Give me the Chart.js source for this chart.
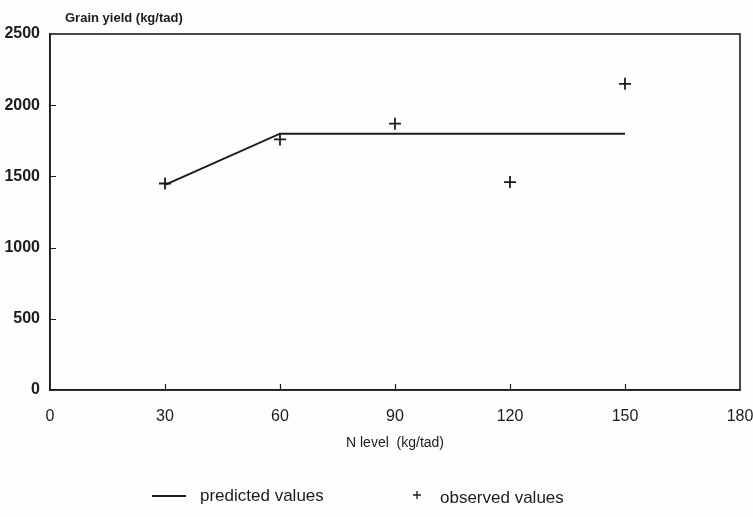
<!DOCTYPE html>
<html>
<head>
<meta charset="utf-8">
<script src="https://cdn.jsdelivr.net/npm/chart.js@4"></script>
<style>
  html, body { margin: 0; padding: 0; background: #fdfdfb; }
  #wrap { width: 753px; height: 517px; position: relative; }
</style>
</head>
<body>
<div id="wrap"><canvas id="yieldChart" width="753" height="517"></canvas></div>
<script>
// N level (kg/fad) and grain yield (kg/fad)
const nLevels = [30, 60, 90, 120, 150];
const predictedYield = [1440, 1800, 1800, 1800, 1800];
const observedYield = [1450, 1760, 1870, 1460, 2150];
const xTicks = [0, 30, 60, 90, 120, 150, 180];
const yTicks = [0, 500, 1000, 1500, 2000, 2500];
const legendNames = ['predicted values', 'observed values'];

const ink = '#1c1c1c';
const fontFam = '"Liberation Sans", Arial, sans-serif';

// frame, inward ticks, y title and the legend line at the bottom
const framePlugin = {
    id: 'frame',
    afterDraw(chart) {
        const a = chart.chartArea;
        const c = chart.ctx;
        const xs = chart.scales.x, ys = chart.scales.y;
        c.save();
        c.strokeStyle = ink;
        c.lineWidth = 1.6;
        c.strokeRect(a.left, a.top, a.right - a.left, a.bottom - a.top);

        c.lineWidth = 1.2;
        c.beginPath();
        xTicks.slice(1, -1).forEach(v => {
            const px = Math.round(xs.getPixelForValue(v)) + 0.5;
            c.moveTo(px, a.bottom);
            c.lineTo(px, a.bottom - 6);
        });
        yTicks.slice(1, -1).forEach(v => {
            const py = Math.round(ys.getPixelForValue(v)) + 0.5;
            c.moveTo(a.left, py);
            c.lineTo(a.left + 6, py);
        });
        c.stroke();

        c.fillStyle = ink;
        c.font = 'bold 13px ' + fontFam;
        c.textBaseline = 'alphabetic';
        c.fillText('Grain yield (kg/tad)', a.left + 15, a.top - 12);

        // legend
        const ly = 496;
        c.font = '17px ' + fontFam;
        c.textBaseline = 'middle';
        c.lineWidth = 2;
        c.beginPath();
        c.moveTo(152, ly);
        c.lineTo(186, ly);
        c.stroke();
        c.fillText(legendNames[0], 200, ly);
        c.lineWidth = 1.3;
        c.beginPath();
        c.moveTo(413, ly - 1);
        c.lineTo(421, ly - 1);
        c.moveTo(417, ly - 5);
        c.lineTo(417, ly + 3);
        c.stroke();
        c.fillText(legendNames[1], 440, ly + 2);
        c.restore();
    }
};

function startChart() {
    if (typeof Chart === 'undefined') {
        setTimeout(startChart, 200);
        return;
    }
    const ctx = document.getElementById('yieldChart').getContext('2d');

    new Chart(ctx, {
        type: 'scatter',
        data: {
            datasets: [{
                label: legendNames[0],
                data: nLevels.map((n, i) => ({ x: n, y: predictedYield[i] })),
                showLine: true,
                borderColor: ink,
                backgroundColor: ink,
                borderWidth: 2,
                pointRadius: 0,
                tension: 0
            }, {
                label: legendNames[1],
                data: nLevels.map((n, i) => ({ x: n, y: observedYield[i] })),
                showLine: false,
                pointStyle: 'cross',
                pointRadius: 6,
                borderColor: ink,
                borderWidth: 1.8
            }]
        },
        options: {
            responsive: false,
            animation: false,
            layout: { padding: { top: 34, right: 13, left: 0, bottom: 65 } },
            scales: {
                x: {
                    type: 'linear',
                    min: 0,
                    max: 180,
                    afterBuildTicks: s => { s.ticks = xTicks.map(v => ({ value: v })); },
                    afterFit: s => { s.height = 62; s.paddingLeft = 0; s.paddingRight = 0; },
                    grid: { display: true, drawOnChartArea: false, drawTicks: false },
                    border: { display: true, color: ink, width: 1.6 },
                    ticks: { color: ink, padding: 17, maxRotation: 0, font: { family: fontFam, size: 16 } },
                    title: {
                        display: true,
                        text: 'N level  (kg/tad)',
                        color: ink,
                        padding: { top: 4, bottom: 0 },
                        font: { family: fontFam, size: 14 }
                    }
                },
                y: {
                    min: 0,
                    max: 2500,
                    afterBuildTicks: s => { s.ticks = yTicks.map(v => ({ value: v })); },
                    afterFit: s => { s.width = 50; },
                    grid: { display: true, drawOnChartArea: false, drawTicks: false },
                    border: { display: true, color: ink, width: 1.6 },
                    ticks: {
                        color: ink,
                        padding: 10,
                        callback: v => String(v),
                        font: { family: fontFam, size: 16, weight: 'bold' }
                    }
                }
            },
            plugins: {
                legend: { display: false },
                tooltip: { enabled: false }
            }
        },
        plugins: [framePlugin]
    });
}

startChart();
</script>
</body>
</html>
